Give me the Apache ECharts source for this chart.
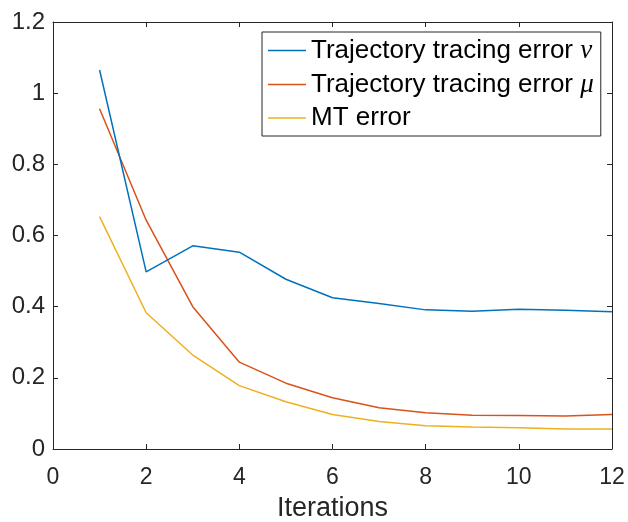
<!DOCTYPE html>
<html>
<head>
<meta charset="utf-8">
<script src="https://cdn.jsdelivr.net/npm/echarts@6/dist/echarts.min.js"></script>
<style>
  html, body { margin: 0; padding: 0; background: #fff; }
  #chart { width: 628px; height: 522px; }
</style>
</head>
<body>
<div id="chart"></div>
<script>
// Iteration index and error values per series
const iterations = [1, 2, 3, 4, 5, 6, 7, 8, 9, 10, 11, 12];
const errorNu = [1.065, 0.498, 0.571, 0.553, 0.477, 0.425, 0.409, 0.391, 0.387, 0.393, 0.390, 0.386];
const errorMu = [0.956, 0.643, 0.400, 0.244, 0.185, 0.144, 0.116, 0.102, 0.095, 0.094, 0.093, 0.097];
const errorMT = [0.653, 0.383, 0.264, 0.178, 0.133, 0.097, 0.077, 0.065, 0.062, 0.060, 0.056, 0.056];
const seriesNames = ['Trajectory tracing error ν', 'Trajectory tracing error μ', 'MT error'];
const xTicks = [0, 2, 4, 6, 8, 10, 12];
const yTicks = [0, 0.2, 0.4, 0.6, 0.8, 1, 1.2];

const FONT = '"Liberation Sans", Arial, Helvetica, sans-serif';
const colors = ['#0072BD', '#D95319', '#EDB120'];

const toPairs = (ys) => iterations.map((x, i) => [x, ys[i]]);

const axisCommon = {
  type: 'value',
  axisLine: { show: true, onZero: false, lineStyle: { color: '#262626', width: 1 } },
  axisTick: { show: true, inside: true, length: 5, lineStyle: { color: '#262626', width: 1 } },
  splitLine: { show: false }
};

const chart = echarts.init(document.getElementById('chart'), null, { renderer: 'canvas' });
chart.setOption({
  animation: false,
  backgroundColor: '#ffffff',
  grid: { left: 53, right: 16, top: 22, bottom: 73, containLabel: false, outerBoundsMode: 'none' },
  xAxis: [
    Object.assign({}, axisCommon, {
      position: 'bottom',
      min: xTicks[0], max: xTicks[xTicks.length - 1], interval: 2,
      name: 'Iterations', nameLocation: 'middle', nameGap: 46,
      nameTextStyle: { fontFamily: FONT, fontSize: 27, color: '#262626' },
      axisLabel: { fontFamily: FONT, fontSize: 23, color: '#262626', margin: 17 }
    }),
    Object.assign({}, axisCommon, {
      position: 'top',
      min: xTicks[0], max: xTicks[xTicks.length - 1], interval: 2,
      axisLabel: { show: false }
    })
  ],
  yAxis: [
    Object.assign({}, axisCommon, {
      position: 'left',
      min: yTicks[0], max: yTicks[yTicks.length - 1], interval: 0.2,
      axisLabel: { fontFamily: FONT, fontSize: 24, color: '#262626', margin: 8,
        formatter: (v) => String(+v.toFixed(1)) }
    }),
    Object.assign({}, axisCommon, {
      position: 'right',
      min: yTicks[0], max: yTicks[yTicks.length - 1], interval: 0.2,
      axisLabel: { show: false }
    })
  ],
  legend: {
    orient: 'vertical',
    left: 262, top: 32,
    padding: [5, 7, 5, 6],
    itemGap: 7,
    icon: 'rect',
    itemWidth: 38, itemHeight: 1.5,
    borderColor: '#262626', borderWidth: 1,
    backgroundColor: '#ffffff',
    data: seriesNames,
    formatter: (name) => {
      const last = name.slice(-1);
      if (last === 'ν' || last === 'μ') {
        return '{t|' + name.slice(0, -1) + '}{m|' + last + '}';
      }
      return '{t|' + name + '}';
    },
    textStyle: {
      fontFamily: FONT, fontSize: 26, color: '#000',
      rich: {
        t: { fontFamily: FONT, fontSize: 26, color: '#000', lineHeight: 24 },
        m: { fontFamily: '"Liberation Serif", "DejaVu Serif", serif', fontStyle: 'italic', fontSize: 27, color: '#000', lineHeight: 24 }
      }
    }
  },
  series: [errorNu, errorMu, errorMT].map((ys, i) => ({
    name: seriesNames[i],
    type: 'line',
    xAxisIndex: 0, yAxisIndex: 0,
    data: toPairs(ys),
    symbol: 'none',
    showSymbol: false,
    color: colors[i],
    lineStyle: { color: colors[i], width: 1.5 },
    z: 3 - i
  }))
});
</script>
</body>
</html>
